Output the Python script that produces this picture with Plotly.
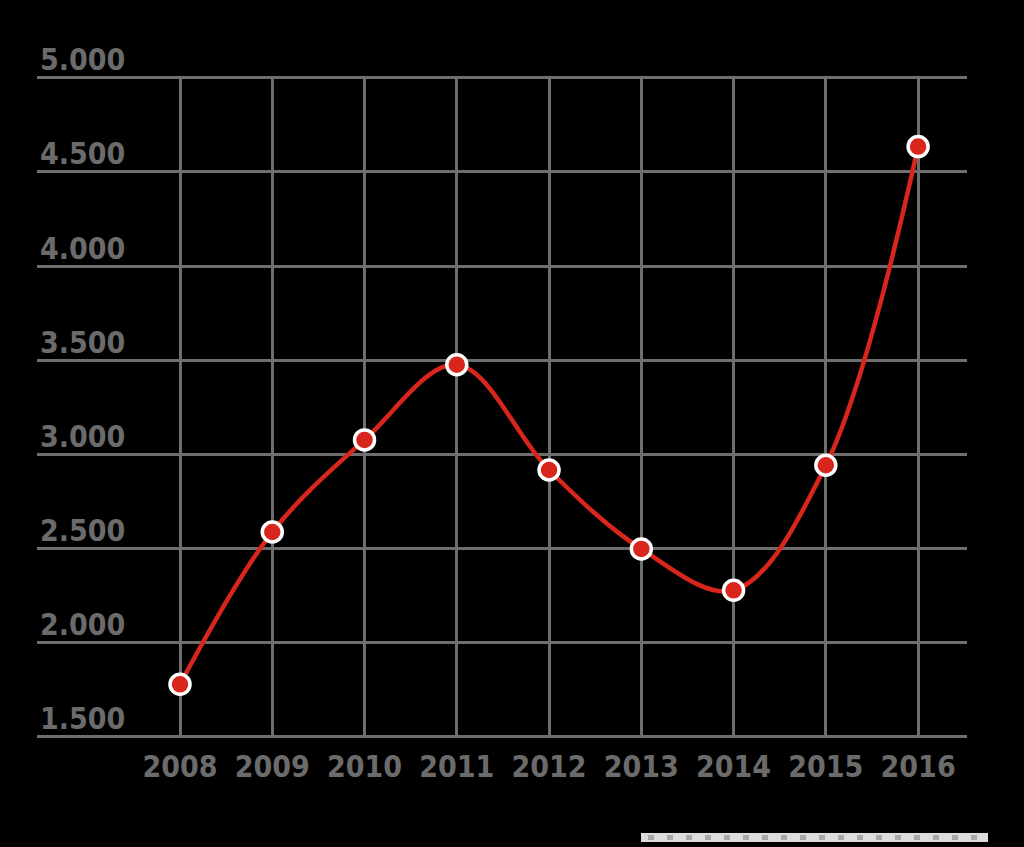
import plotly.graph_objects as go

years = [2008, 2009, 2010, 2011, 2012, 2013, 2014, 2015, 2016]
values = [1775, 2585, 3075, 3475, 2915, 2495, 2275, 2940, 4635]
y_ticks = [1500, 2000, 2500, 3000, 3500, 4000, 4500, 5000]
y_tick_labels = ["1.500", "2.000", "2.500", "3.000", "3.500", "4.000", "4.500", "5.000"]

W, H = 1024, 847
L, R, T, B = 37, 57, 76, 109
pw, ph = W - L - R, H - T - B

def px(x):
    return (x - L) / pw

def py(y):
    return (H - B - y) / ph

fig = go.Figure()
fig.add_trace(go.Scatter(
    x=years, y=values, mode="lines+markers",
    line=dict(color="#d9261c", width=4.5, shape="spline", smoothing=1.0),
    marker=dict(size=20, color="#d9261c", line=dict(color="white", width=3.5)),
    cliponaxis=False, hoverinfo="x+y", showlegend=False,
))

grid = "#6e6e6e"
font = dict(family="DejaVu Sans Condensed, DejaVu Sans", size=30, color="#6b6b6b", weight="bold")

fig.update_layout(
    width=W, height=H,
    paper_bgcolor="black", plot_bgcolor="black",
    margin=dict(l=L, r=R, t=T, b=B),
    xaxis=dict(
        range=[2006.45, 2016.53], tickvals=years, ticktext=[str(y) for y in years],
        showgrid=True, gridcolor=grid, gridwidth=3, zeroline=False, showline=False,
        ticks="", tickfont=font, ticklabelstandoff=8, fixedrange=True,
    ),
    yaxis=dict(
        range=[1489.4, 5010.6], tickvals=y_ticks, ticktext=y_tick_labels,
        showgrid=True, gridcolor=grid, gridwidth=3, zeroline=False, showline=False,
        ticks="", tickfont=font, ticklabelposition="inside top", ticklabelstandoff=0,
        ticklabelshift=3, ticklabeloverflow="allow", fixedrange=True,
    ),
    shapes=[
        dict(type="rect", xref="paper", yref="paper",
             x0=px(641), x1=px(988), y0=py(842), y1=py(833),
             fillcolor="#dcdcdc", line=dict(width=0), layer="above"),
        dict(type="line", xref="paper", yref="paper",
             x0=px(648), x1=px(982), y0=py(837.5), y1=py(837.5),
             line=dict(color="#a8a8a8", width=5, dash="6px,13px"), layer="above"),
    ],
)

fig.write_html("out.html")
